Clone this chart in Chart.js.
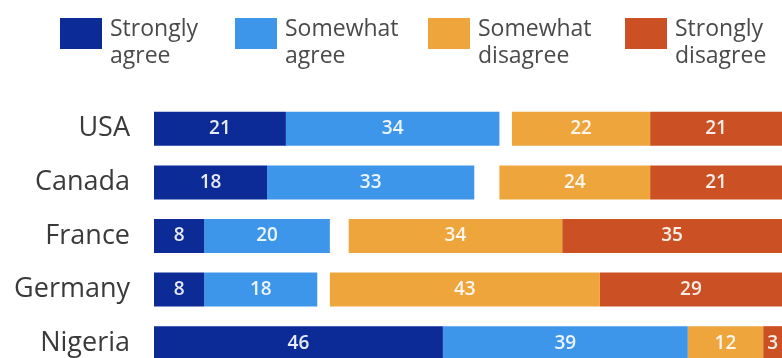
<!DOCTYPE html>
<html>
<head>
<meta charset="utf-8">
<script src="https://cdn.jsdelivr.net/npm/chart.js@4/dist/chart.umd.min.js"></script>
<style>
    html, body { margin: 0; padding: 0; background: #fff; overflow: hidden; }
    #wrap { position: relative; width: 782px; height: 358px; overflow: hidden; }
    #surveyChart { position: absolute; left: 0; top: 0; }
    .legend-item { position: absolute; top: 18px; }
    .legend-box { position: absolute; top: 0; left: 0; width: 42px; height: 31px; }
    .legend-text {
        position: absolute; top: -4px; left: 50px; white-space: nowrap;
        font-family: "Open Sans", sans-serif; font-size: 23px; line-height: 27px; color: #4a4a4a;
    }
</style>
</head>
<body>
<div id="wrap">
    <canvas id="surveyChart" width="782" height="372"></canvas>
    <div id="legend"></div>
</div>
<script>
const countries = ['USA', 'Canada', 'France', 'Germany', 'Nigeria'];
const stronglyAgree = [21, 18, 8, 8, 46];
const somewhatAgree = [34, 33, 20, 18, 39];
const somewhatDisagree = [22, 24, 34, 43, 12];
const stronglyDisagree = [21, 21, 35, 29, 3];
const legendLabels = [['Strongly', 'agree'], ['Somewhat', 'agree'], ['Somewhat', 'disagree'], ['Strongly', 'disagree']];
const seriesColors = ['#0c2b97', '#3e96ea', '#eea53c', '#cb5124'];
const legendLeft = [60, 235, 428, 625];

// disagree bars are pushed to the right edge, the gap is whatever is left over
let gapValues = countries.map((c, i) =>
    100 - stronglyAgree[i] - somewhatAgree[i] - somewhatDisagree[i] - stronglyDisagree[i]);

function buildLegend() {
    let legend = document.getElementById('legend');
    legendLabels.forEach((lines, i) => {
        let item = document.createElement('div');
        item.className = 'legend-item';
        item.style.left = legendLeft[i] + 'px';
        item.innerHTML = `<div class="legend-box" style="background:${seriesColors[i]}"></div>` +
            `<div class="legend-text">${lines.join('<br>')}</div>`;
        legend.appendChild(item);
    });
}

const barValueLabels = {
    id: 'barValueLabels',
    afterDatasetsDraw(chart) {
        let ctx = chart.ctx;
        ctx.save();
        ctx.font = '600 19px "Open Sans", sans-serif';
        ctx.fillStyle = 'rgba(255,255,255,0.9)';
        ctx.textAlign = 'center';
        ctx.textBaseline = 'middle';
        chart.data.datasets.forEach((ds, di) => {
            if (ds.isGap) return;
            chart.getDatasetMeta(di).data.forEach((bar, i) => {
                let v = ds.data[i];
                if (!v) return;
                ctx.fillText(String(v), (bar.x + bar.base) / 2, bar.y);
            });
        });
        ctx.restore();
    }
};

function createChart() {
    const ctx = document.getElementById('surveyChart').getContext('2d');
    let makeSet = (label, data, color) => ({
        label: label, data: data, backgroundColor: color, borderWidth: 0,
        barPercentage: 0.635, categoryPercentage: 1.0
    });
    window.chart = new Chart(ctx, {
        type: 'bar',
        data: {
            labels: countries,
            datasets: [
                makeSet('Strongly agree', stronglyAgree, seriesColors[0]),
                makeSet('Somewhat agree', somewhatAgree, seriesColors[1]),
                Object.assign(makeSet('gap', gapValues, 'rgba(0,0,0,0)'), { isGap: true }),
                makeSet('Somewhat disagree', somewhatDisagree, seriesColors[2]),
                makeSet('Strongly disagree', stronglyDisagree, seriesColors[3])
            ]
        },
        options: {
            indexAxis: 'y',
            responsive: false,
            animation: false,
            layout: { padding: { top: 102, right: 0, bottom: 2, left: 0 } },
            scales: {
                x: {
                    stacked: true, min: 0, max: 100, display: false
                },
                y: {
                    stacked: true,
                    grid: { display: false, drawTicks: false },
                    border: { display: false },
                    ticks: {
                        padding: 24,
                        color: '#3a3a3a',
                        font: { family: '"Open Sans", sans-serif', size: 27 }
                    },
                    afterFit(scale) {
                        scale.width = 154;
                        // the label padding would otherwise eat the bottom of the plot
                        scale.paddingTop = 0;
                        scale.paddingBottom = 0;
                    }
                }
            },
            plugins: {
                legend: { display: false },
                tooltip: { enabled: false }
            }
        },
        plugins: [barValueLabels]
    });
}

buildLegend();
createChart();
</script>
</body>
</html>
